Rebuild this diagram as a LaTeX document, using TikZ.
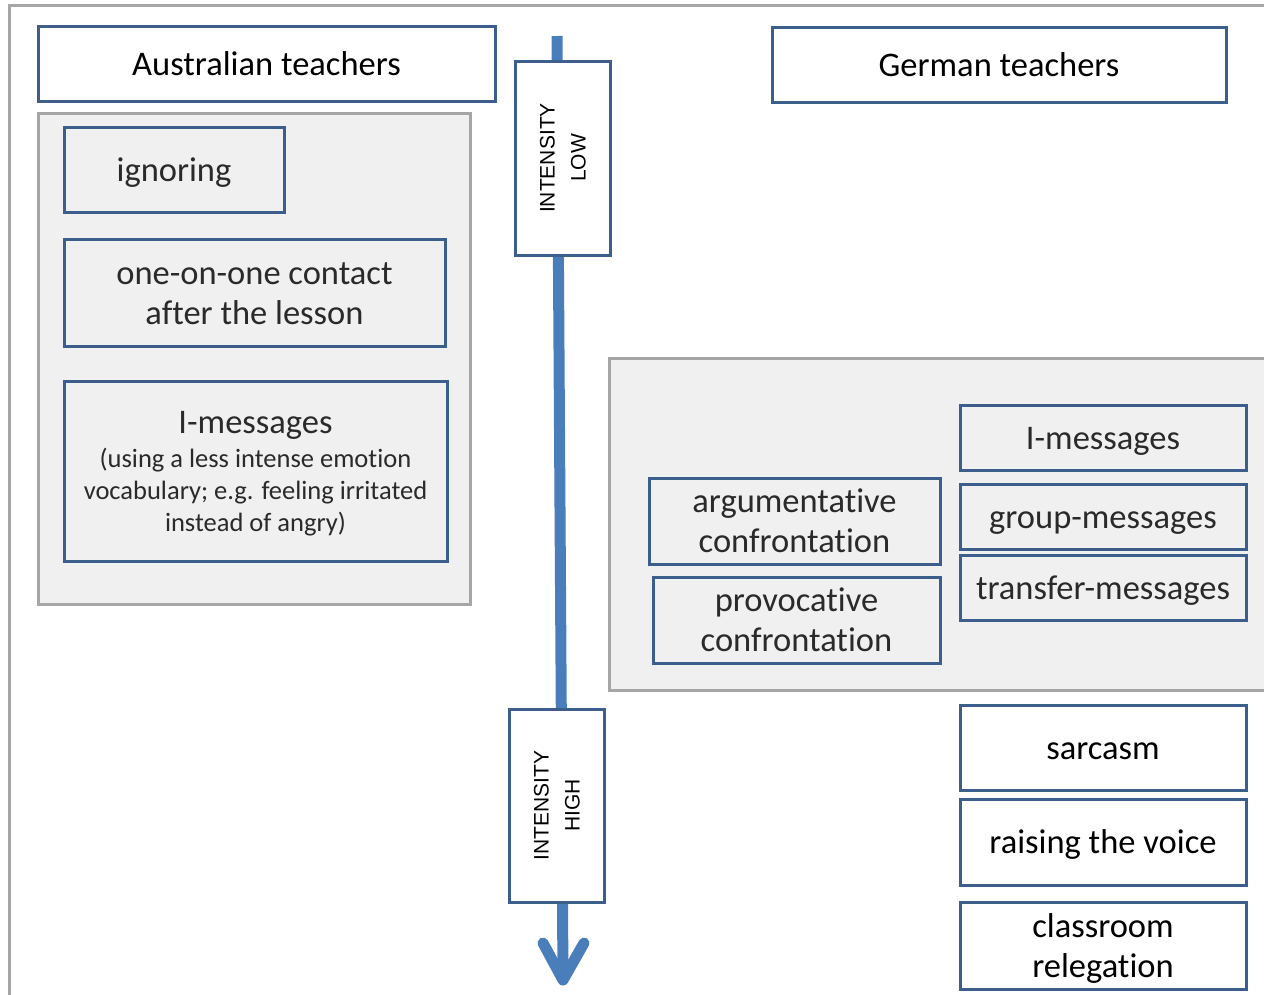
\documentclass[tikz,border=0pt]{standalone}
\usepackage{fontspec}
\setmainfont{Carlito}[Ligatures=NoCommon]
\newfontfamily\capsfont{Liberation Sans}
\definecolor{boxblue}{HTML}{3B5E8C}
\definecolor{arrowblue}{HTML}{4A7EBB}
\definecolor{panelfill}{HTML}{F0F0F0}
\definecolor{panelline}{HTML}{A6A6A6}
\definecolor{softtext}{HTML}{2A2A2A}
\begin{document}
\begin{tikzpicture}[x=1pt,y=-1pt,
  card/.style={draw=boxblue, line width=3pt, inner sep=0pt, align=center,
    font=\fontsize{34.5}{40}\selectfont, text height=23pt, text depth=0pt},
  twolines/.style={text height=63pt},
  whitecard/.style={card, fill=white, text=black},
  graycard/.style={card, fill=panelfill, text=softtext},
  panel/.style={draw=panelline, fill=panelfill, line width=3pt, inner sep=0pt},
  levelbox/.style={draw=boxblue, fill=white, line width=3pt, inner sep=0pt,
    minimum width=194pt, minimum height=95pt, align=center, rotate=90,
    font=\capsfont\fontsize{21}{31}\selectfont, text height=46pt, text depth=0pt},
  arrowline/.style={draw=arrowblue, line width=11pt}
]
\useasboundingbox (0,0) rectangle (1264,994);

% outer frame (runs off the right and bottom edges)
\draw[panelline, line width=3pt] (9,1020) -- (9,5) -- (1290,5);

% shaded groups
\node[panel, minimum width=432pt, minimum height=491pt] (ausgroup) at (254,358.5) {};
\node[panel, minimum width=681pt, minimum height=332pt] (gergroup) at (949.5,524) {};

% intensity scale
\coordinate (scaletop) at (557,36);
\coordinate (scaletip) at (563,980);
\coordinate (barbleft) at (543,943);
\coordinate (barbright) at (584,943);
\draw[arrowline] (scaletop) -- (scaletip);
\draw[arrowline, line cap=round, line join=round] (barbleft) -- (scaletip) -- (barbright);

\node[levelbox] (low) at (562.5,158) {INTENSITY\\LOW};
\node[levelbox, minimum width=193pt] (high) at (556.5,805.5) {INTENSITY\\HIGH};

% headings
\node[whitecard, minimum width=457pt, minimum height=75pt] (aus) at (266.5,63.5) {Australian teachers};
\node[whitecard, minimum width=454pt, minimum height=75pt] (ger) at (999,64.5) {German teachers};

% Australian strategies
\node[graycard, minimum width=220pt, minimum height=85pt] (ign) at (174,169.5) {ignoring};
\node[graycard, twolines, minimum width=381pt, minimum height=107pt] (contact) at (254.5,292.5)
  {one-on-one contact\\after the lesson};
\node[graycard, minimum width=383pt, minimum height=180pt, text height=121pt,
  font=\fontsize{26.5}{32}\selectfont] (imsgA) at (255.5,471)
  {{\fontsize{34.5}{40}\selectfont I-messages}\\[2pt]
   (using a less intense emotion\\vocabulary; e.g. feeling irritated\\instead of angry)};

% German strategies
\node[graycard, minimum width=286pt, minimum height=65pt] (imsgG) at (1103,437.5) {I-messages};
\node[graycard, minimum width=286pt, minimum height=65pt] (group) at (1103,516.5) {group-messages};
\node[graycard, minimum width=286pt, minimum height=65pt] (transfer) at (1103,587.5) {transfer-messages};
\node[graycard, twolines, minimum width=291pt, minimum height=86pt] (argue) at (794.5,521)
  {argumentative\\confrontation};
\node[graycard, twolines, minimum width=287pt, minimum height=86pt] (provoke) at (796.5,620)
  {provocative\\confrontation};
\node[whitecard, minimum width=286pt, minimum height=85pt] (sarcasm) at (1103,747.5) {sarcasm};
\node[whitecard, minimum width=286pt, minimum height=86pt] (voice) at (1103,842) {raising the voice};
\node[whitecard, twolines, minimum width=286pt, minimum height=87pt] (relegate) at (1103,945.5)
  {classroom\\relegation};
\end{tikzpicture}
\end{document}
